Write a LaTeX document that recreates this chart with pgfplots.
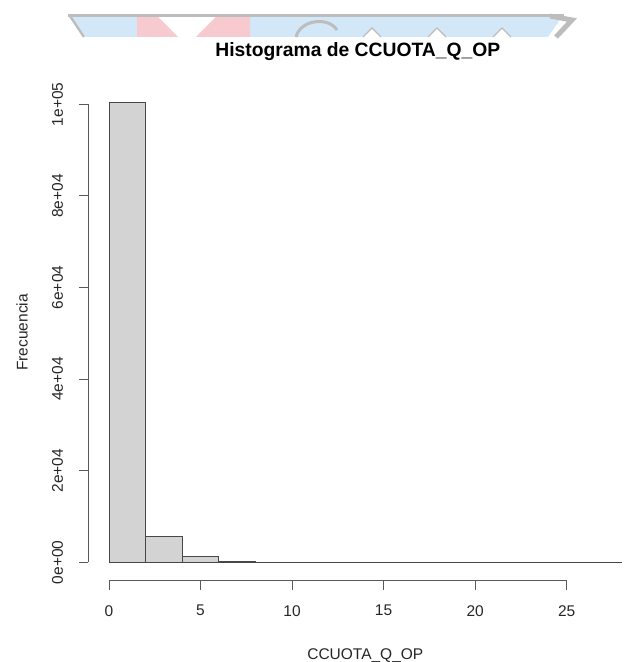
\documentclass[border=0pt]{standalone}
\usepackage{pgfplots}
\pgfplotsset{compat=1.18}
\usepackage{fontspec}
\setmainfont{Liberation Sans}
\definecolor{barfill}{HTML}{D3D3D3}
\definecolor{wmblue}{HTML}{D2E8F8}
\definecolor{wmpink}{HTML}{F6CACE}
\definecolor{wmgray}{HTML}{BDBDBD}
\newcommand{\basefont}{\fontsize{15.5}{18}\selectfont}
\begin{document}
\begin{tikzpicture}[x=1pt,y=1pt]
\useasboundingbox (0,0) rectangle (626,662);
% faint cropped banner at the top
\fill[wmblue] (72,645) -- (137,645) -- (137,625) -- (86,625) -- cycle;
\fill[wmblue] (250,645) -- (562,645) -- (548,625) -- (250,625) -- cycle;
\fill[wmpink] (137,645) -- (158,645) -- (178,625) -- (137,625) -- cycle;
\fill[wmpink] (216,645) -- (250,645) -- (250,625) -- (196,625) -- cycle;
\draw[wmgray, line width=3pt] (68,646) -- (564,646);
\draw[wmgray, line width=2.5pt] (70,646) -- (84,625);
\draw[wmgray, line width=3pt] (296,625) .. controls (300,642) and (328,646) .. (337,632);
\foreach \t in {372,437,502} {\draw[wmgray, line width=1.2pt, fill=white] (\t-9,625) -- (\t,634) -- (\t+9,625);}
\draw[wmgray, line width=5pt] (550,646) -- (572,642) -- (556,625);
\begin{axis}[
  at={(88.5pt,81.3pt)}, anchor=south west,
  scale only axis, width=537.5pt, height=496.4pt,
  xmin=-1.12, xmax=28.24, ymin=-4014, ymax=104364,
  clip=false,
  axis x line*=bottom, axis y line*=left,
  axis line style={draw=none},
  xtick={0,5,10,15,20,25},
  xticklabels={0,5,10,15,20,25},
  ytick={0,20000,40000,60000,80000,100000},
  yticklabels={0e+00,2e+04,4e+04,6e+04,8e+04,1e+05},
  scaled y ticks=false,
  tick align=outside, major tick length=9pt,
  every tick/.style={black!65, line width=0.9pt},
  xticklabel shift=12pt, yticklabel shift=13pt,
  xticklabel style={font=\basefont, text=black!85},
  yticklabel style={font=\basefont, text=black!85, rotate=90, anchor=south},
  xlabel={CCUOTA\_Q\_OP},
  ylabel={Frecuencia},
  xlabel style={font=\basefont, text=black!85, at={(axis description cs:0.515,-0.1517)}, anchor=center},
  ylabel style={font=\basefont, text=black!85, at={(axis description cs:-0.1237,0.5)}, anchor=center, rotate=0},
  title={Histograma de CCUOTA\_Q\_OP},
  title style={font=\bfseries\fontsize{19.3}{23}\selectfont, at={(axis description cs:0.501,1.053)}, anchor=center},
]
\addplot[ybar interval, fill=barfill, draw=black!72, line width=1pt]
  coordinates {(0,100300) (2,5600) (4,1200) (6,250) (8,60) (10,20) (12,10) (14,6) (16,4) (18,3) (20,2) (22,1) (24,1) (26,1) (28,1)};
\draw[black!65, line width=0.9pt] (axis cs:0,-4014) -- (axis cs:25,-4014);
\draw[black!65, line width=0.9pt] (axis cs:-1.12,0) -- (axis cs:-1.12,100000);
\end{axis}
\end{tikzpicture}
\end{document}
